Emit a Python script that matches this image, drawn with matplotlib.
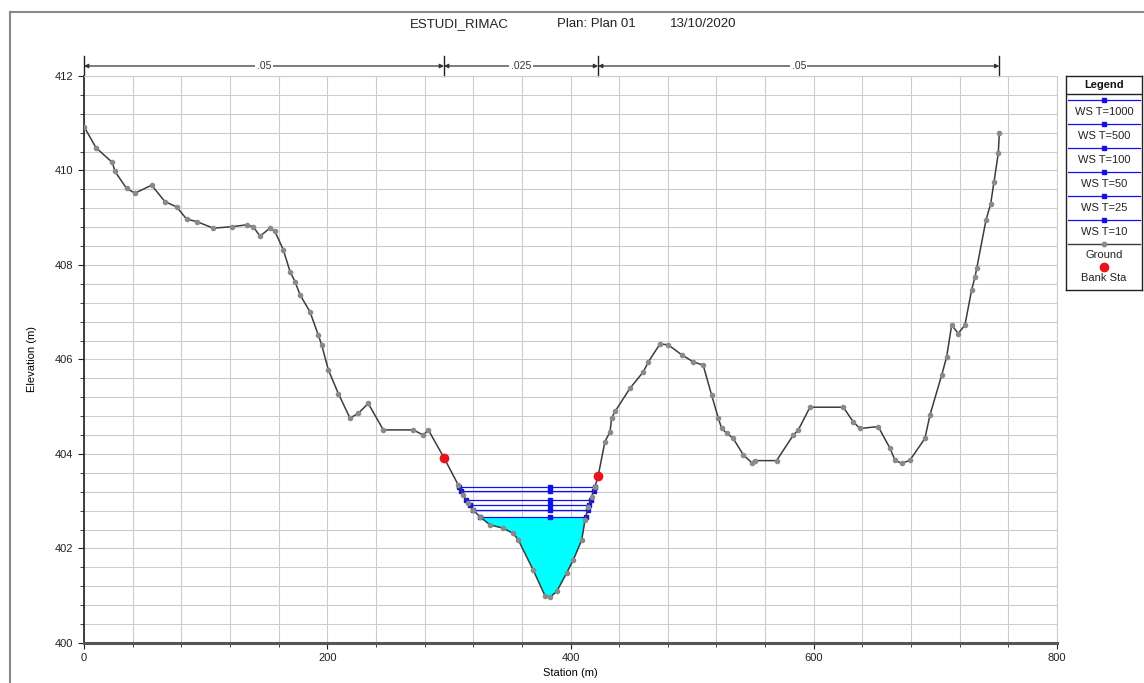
import numpy as np
import matplotlib
matplotlib.use("Agg")
import matplotlib.pyplot as plt
from matplotlib.lines import Line2D
from matplotlib.ticker import MultipleLocator
import matplotlib.transforms as mtransforms

# ---- Cross-section data -------------------------------------------------
station = [0, 9.9, 23.3, 25.5, 35, 41.9, 55.6, 66.6, 76.2, 84.4, 92.6, 106.3,
           121.4, 133.7, 139.2, 144.7, 152.9, 157, 163.9, 169.4, 173.5, 177.6,
           185.8, 192.6, 195.4, 200.9, 209.1, 218.7, 225.5, 233.7, 246.1, 270.7,
           279, 283.1, 296, 307.8, 311.9, 316, 320.1, 325.6, 333.8, 344.7,
           352.9, 357.1, 369.4, 379, 383.1, 388.6, 396.8, 402.3, 409.2, 411.9,
           414.7, 417.4, 420.1, 422.7, 428.3, 432.5, 433.8, 436.6, 448.9, 459.9,
           464, 473.6, 480.4, 491.4, 500.9, 509.1, 516, 521.5, 524.3, 528.4,
           533.8, 542.1, 548.9, 551.6, 569.4, 583.2, 587.3, 596.9, 624.3, 632.5,
           638, 653, 662.7, 666.8, 672.3, 679.1, 691.4, 695.6, 705.2, 709.3,
           713.4, 718.8, 724.3, 729.8, 732.6, 734, 741.6, 745.5, 748.2, 751.7,
           752.6]
elevation = [410.93, 410.48, 410.17, 409.98, 409.62, 409.52, 409.69, 409.34,
             409.23, 408.97, 408.92, 408.78, 408.81, 408.85, 408.81, 408.61,
             408.78, 408.71, 408.32, 407.86, 407.65, 407.37, 407.01, 406.52,
             406.31, 405.78, 405.28, 404.76, 404.86, 405.07, 404.51, 404.51,
             404.40, 404.51, 403.92, 403.34, 403.13, 402.96, 402.81, 402.67,
             402.50, 402.43, 402.32, 402.18, 401.54, 401.00, 400.97, 401.09,
             401.48, 401.76, 402.18, 402.60, 402.88, 403.10, 403.31, 403.53,
             404.26, 404.47, 404.76, 404.90, 405.39, 405.74, 405.95, 406.33,
             406.31, 406.10, 405.95, 405.88, 405.25, 404.76, 404.54, 404.44,
             404.33, 403.98, 403.82, 403.86, 403.86, 404.40, 404.51, 404.99,
             404.99, 404.68, 404.54, 404.58, 404.12, 403.87, 403.80, 403.87,
             404.33, 404.83, 405.67, 406.06, 406.73, 406.55, 406.73, 407.47,
             407.75, 407.93, 408.95, 409.30, 409.76, 410.36, 410.80]

bank_stations = [296, 422.7]

ws_labels = ["WS T=1000", "WS T=500", "WS T=100", "WS T=50", "WS T=25", "WS T=10"]
ws_elev = [403.30, 403.22, 403.03, 402.92, 402.81, 402.67]
ws_mid_station = 383.1

n_values = [".05", ".025", ".05"]

title_parts = ["ESTUDI_RIMAC", "Plan: Plan 01", "13/10/2020"]

# ---- Helpers ------------------------------------------------------------
sta = np.asarray(station, float)
elv = np.asarray(elevation, float)


def water_edges(ws):
    """Left/right stations where a water surface meets the channel ground."""
    i0 = np.searchsorted(sta, bank_stations[0])
    i1 = np.searchsorted(sta, bank_stations[1])
    wet = np.where(elv[i0:i1 + 1] <= ws)[0] + i0
    a, b = wet[0], wet[-1]
    xl = np.interp(ws, [elv[a], elv[a - 1]], [sta[a], sta[a - 1]])
    xr = np.interp(ws, [elv[b], elv[b + 1]], [sta[b], sta[b + 1]])
    return xl, xr


FONT = ["Liberation Sans", "DejaVu Sans"]
plt.rcParams["font.family"] = FONT

fig = plt.figure(figsize=(11.44, 6.83), dpi=100)
W, H = 1144, 683
ax = fig.add_axes([84 / W, 1 - 643 / H, (1057 - 84) / W, (643 - 76) / H])

ax.set_xlim(0, 800)
ax.set_ylim(400, 412)
ax.xaxis.set_major_locator(MultipleLocator(200))
ax.xaxis.set_minor_locator(MultipleLocator(40))
ax.yaxis.set_major_locator(MultipleLocator(2))
ax.yaxis.set_minor_locator(MultipleLocator(0.4))
ax.grid(which="both", color="#cccccc", lw=0.8)
ax.set_axisbelow(True)
ax.tick_params(which="both", labelsize=8, colors="#222222", direction="out")
ax.tick_params(which="major", length=4)
ax.tick_params(which="minor", length=3)
for side in ("top", "right"):
    ax.spines[side].set_color("#cccccc")
    ax.spines[side].set_linewidth(0.8)
ax.spines["left"].set_color("#222222")
ax.spines["left"].set_linewidth(1.2)
ax.spines["bottom"].set_color("#555555")
ax.spines["bottom"].set_linewidth(2.2)
ax.set_xlabel("Station (m)", fontsize=8, labelpad=3)
ax.set_ylabel("Elevation (m)", fontsize=8, labelpad=13)

# ---- Water: lowest profile filled, all profiles as lines ----------------
low = int(np.argmin(ws_elev))
xl, xr = water_edges(ws_elev[low])
inside = (sta > xl) & (sta < xr)
fx = np.concatenate([[xl], sta[inside], [xr]])
fy = np.concatenate([[ws_elev[low]], elv[inside], [ws_elev[low]]])
ax.fill_between(fx, fy, ws_elev[low], color="#00ffff", zorder=2, lw=0)

for ws in ws_elev:
    xl, xr = water_edges(ws)
    ax.plot([xl, xr], [ws, ws], color="#1010ee", lw=0.9, zorder=3)
    ax.plot([xl, ws_mid_station, xr], [ws, ws, ws], ls="none", marker="s",
            ms=3.5, color="#1010ee", zorder=4)

# ---- Ground --------------------------------------------------------------
ax.plot(sta, elv, color="#3c3c3c", lw=1.1, marker="o", ms=3.0,
        mfc="#8a8a8a", mec="#8a8a8a", zorder=5)
ax.plot(bank_stations, np.interp(bank_stations, sta, elv), ls="none",
        marker="o", ms=6, color="#e8141c", zorder=6)

# ---- Manning's n bar above the plot --------------------------------------
trans = mtransforms.blended_transform_factory(ax.transData, ax.transAxes)
breaks = [sta[0], bank_stations[0], bank_stations[1], sta[-1]]
ybar = 1 + (76 - 66) / 567
for a, b, n in zip(breaks[:-1], breaks[1:], n_values):
    ax.annotate("", xy=(b, ybar), xytext=(a, ybar), xycoords=trans,
                textcoords=trans,
                arrowprops=dict(arrowstyle="<|-|>", color="#333333", lw=0.9,
                                mutation_scale=6, shrinkA=0, shrinkB=0),
                annotation_clip=False)
    ax.text((a + b) / 2, ybar, n, transform=trans, ha="center", va="center",
            fontsize=7.5, color="#333333",
            bbox=dict(boxstyle="square,pad=0.15", fc="white", ec="none"))
for x in breaks:
    ax.plot([x, x], [1.0, 1 + (76 - 56) / 567], transform=trans, color="#222222",
            lw=1.0, clip_on=False)

# Title pieces laid out along the top
for txt, xp in zip(title_parts, [410, 557, 670]):
    fig.text(xp / W, 1 - 24 / H, txt, ha="left", va="center", fontsize=9.5,
             color="#222222")

# ---- Outer frame ---------------------------------------------------------
fig.add_artist(Line2D([10 / W, 10 / W], [0, 1 - 12 / H], color="#8a8a8a", lw=1.5))
fig.add_artist(Line2D([10 / W, 1], [1 - 12 / H, 1 - 12 / H], color="#8a8a8a", lw=1.5))

# ---- Legend panel --------------------------------------------------------
lg = fig.add_axes([1066 / W, 1 - 290 / H, (1142 - 1066) / W, (290 - 76) / H])
lg.set_xlim(0, 76)
lg.set_ylim(214, 0)
lg.set_xticks([])
lg.set_yticks([])
for s in lg.spines.values():
    s.set_color("#222222")
    s.set_linewidth(1.0)
lg.text(38, 9, "Legend", ha="center", va="center", fontsize=8,
        fontweight="bold", color="#111111")
lg.plot([0, 76], [18, 18], color="#222222", lw=1.0)
for k, lab in enumerate(ws_labels):
    yl = 24 + 24 * k
    lg.plot([2, 74], [yl, yl], color="#1010ee", lw=0.9)
    lg.plot([38], [yl], marker="s", ms=3.5, color="#1010ee")
    lg.text(38, yl + 12, lab, ha="center", va="center", fontsize=8,
            color="#222222", clip_on=True)
lg.plot([2, 74], [168, 168], color="#3c3c3c", lw=1.0)
lg.plot([38], [168], marker="o", ms=3.2, color="#8a8a8a")
lg.text(38, 179, "Ground", ha="center", va="center", fontsize=8, color="#222222")
lg.plot([38], [191], marker="o", ms=6, color="#e8141c")
lg.text(38, 202, "Bank Sta", ha="center", va="center", fontsize=8, color="#222222")

fig.savefig("out.png", dpi=100)
